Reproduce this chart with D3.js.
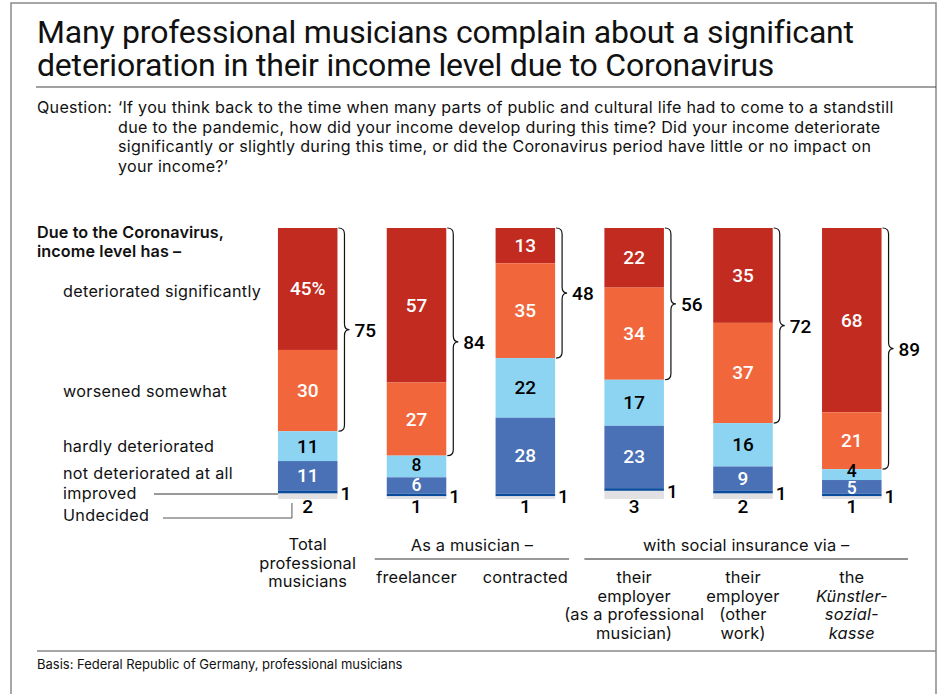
<!DOCTYPE html>
<html><head><meta charset="utf-8">
<script src="https://cdn.jsdelivr.net/npm/d3@7"></script>
<style>
body{margin:0;background:#fff;}
svg text{font-family:Inter,Roboto,"Liberation Sans",sans-serif;}
</style></head>
<body><svg id="c" width="940" height="694"></svg>
<script>
const categories = ["total","freelancer","contracted","employerMusic","employerOther","ksk"];
const significantly = [45,57,13,22,35,68];
const somewhat = [30,27,35,34,37,21];
const hardly = [11,8,22,17,16,4];
const notAtAll = [11,6,28,23,9,5];
const improved = [1,1,1,1,1,1];
const undecided = [2,1,1,3,2,1];
const bracketTotals = [75,84,48,56,72,89];
const seriesNames = ["deteriorated significantly","worsened somewhat","hardly deteriorated","not deteriorated at all","improved","Undecided"];
const categoryLines = [
  ["Total","professional","musicians"],
  ["freelancer"],
  ["contracted"],
  ["their","employer","(as a professional","musician)"],
  ["their","employer","(other","work)"],
  ["the","Künstler-","sozial-","kasse"]
];
const italicFrom = [99,99,99,99,99,1];
const groupLabels = ["As a musician –","with social insurance via –"];

const colors = ["#c22b1f","#f2663c","#8dd4f3","#4a70b5","#0b4c9c","#e1e1e3"];
const textColors = ["#fff","#fff","#000","#fff","#000","#000"];

const svg = d3.select("#c");
svg.append("rect").attr("x",11).attr("y",3).attr("width",925).attr("height",720)
  .attr("fill","none").attr("stroke","#8a8a8a").attr("stroke-width",1.5);

// title
const title = svg.append("text").attr("font-size",32).attr("fill","#111").attr("letter-spacing",-0.2)
  .style("font-family","Roboto, 'Liberation Sans', sans-serif");
title.append("tspan").attr("x",37).attr("y",43).text("Many professional musicians complain about a significant");
title.append("tspan").attr("x",37).attr("y",76).text("deterioration in their income level due to Coronavirus");
svg.append("line").attr("x1",36).attr("x2",936).attr("y1",87).attr("y2",87).attr("stroke","#444").attr("stroke-width",1.2);

// question
const qLines = ["‘If you think back to the time when many parts of public and cultural life had to come to a standstill",
 "due to the pandemic, how did your income develop during this time? Did your income deteriorate",
 "significantly or slightly during this time, or did the Coronavirus period have little or no impact on",
 "your income?’"];
const qs = 16.1, qls = 0.28;
svg.append("text").attr("x",37).attr("y",113).attr("font-size",qs).attr("letter-spacing",qls).attr("fill","#111").text("Question:");
qLines.forEach((l,i)=>svg.append("text").attr("x",118).attr("y",113+19.7*i).attr("font-size",qs).attr("letter-spacing",qls).attr("fill","#111").text(l));

// scales
const data = categories.map((c,i)=>({cat:c,s0:significantly[i],s1:somewhat[i],s2:hardly[i],s3:notAtAll[i],s4:improved[i],s5:undecided[i]}));
const keys = ["s0","s1","s2","s3","s4","s5"];
const stack = d3.stack().keys(keys)(data);
const x = d3.scaleBand().domain(categories).range([254,905.5]).paddingInner(0.453).paddingOuter(0.22);
const y = d3.scaleLinear().domain([0,100]).range([228,499]);
const bw = x.bandwidth();

stack.forEach((layer,k)=>{
  svg.append("g").selectAll("rect").data(layer).join("rect")
    .attr("x",d=>x(d.data.cat)).attr("width",bw)
    .attr("y",d=>y(d[0])).attr("height",d=>y(d[1])-y(d[0]))
    .attr("fill",colors[k]);
});

const numFont = "Roboto, 'Liberation Sans', sans-serif";
stack.slice(0,4).forEach((layer,k)=>{
  svg.append("g").selectAll("text").data(layer).join("text")
    .attr("x",d=>x(d.data.cat)+bw/2)
    .attr("y",d=>{
      const v=d[1]-d[0]; let off=0;
      if (v<5 && k===2) off=-4;
      if (v<6 && k===3) off=1.5;
      if (v<9 && v>=5 && k===2) off=-1;
      return (y(d[0])+y(d[1]))/2+(v<9?6:6.5)+off;
    })
    .attr("text-anchor","middle").attr("font-size",d=>(d[1]-d[0])<9 ? 17.5 : 19).attr("font-weight",500)
    .style("font-family",numFont)
    .attr("fill",textColors[k])
    .text((d,i)=> (k===0 && i===0) ? (d[1]-d[0])+"%" : (d[1]-d[0]));
});
svg.append("g").selectAll("text").data(stack[4]).join("text")
  .attr("x",d=>x(d.data.cat)+bw+3).attr("y",d=>(y(d[0])+y(d[1]))/2+8)
  .attr("font-size",19).attr("font-weight",500).style("font-family",numFont).attr("fill","#000")
  .text(d=>d[1]-d[0]);
svg.append("g").selectAll("text").data(stack[5]).join("text")
  .attr("x",d=>x(d.data.cat)+bw/2).attr("y",d=>y(d[1])+14)
  .attr("text-anchor","middle").attr("font-size",19).attr("font-weight",500).style("font-family",numFont).attr("fill","#000")
  .text(d=>d[1]-d[0]);

function brace(x0,y0,y1){
  const x1=x0+6, x2=x0+11, ym=(y0+y1)/2, r=6;
  return `M${x0},${y0} Q${x1},${y0} ${x1},${y0+r} L${x1},${ym-r} Q${x1},${ym} ${x2},${ym} Q${x1},${ym} ${x1},${ym+r} L${x1},${y1-r} Q${x1},${y1} ${x0},${y1}`;
}
categories.forEach((c,i)=>{
  const x0 = x(c)+bw+1;
  const y0 = y(0), y1 = y(bracketTotals[i]);
  svg.append("path").attr("d",brace(x0,y0,y1)).attr("fill","none").attr("stroke","#111").attr("stroke-width",1.2);
  svg.append("text").attr("x",x0+16).attr("y",(y0+y1)/2+7).attr("font-size",19).attr("font-weight",500)
    .style("font-family",numFont).attr("fill","#000").text(bracketTotals[i]);
});

// legend
const ls = 16.2, lls = 0.3;
svg.append("text").attr("x",37).attr("y",238).attr("font-size",ls).attr("letter-spacing",0.1).attr("font-weight",600).attr("fill","#111").text("Due to the Coronavirus,");
svg.append("text").attr("x",37).attr("y",257).attr("font-size",ls).attr("letter-spacing",0.1).attr("font-weight",600).attr("fill","#111").text("income level has –");
const legY = [297,397,452,479,499,521];
seriesNames.forEach((n,i)=>{
  svg.append("text").attr("x",63).attr("y",legY[i]).attr("font-size",ls).attr("letter-spacing",lls).attr("fill","#111").text(n);
});
const first = categories[0];
svg.append("line").attr("x1",154).attr("x2",x(first)).attr("y1",494).attr("y2",494).attr("stroke","#333").attr("stroke-width",1);
svg.append("polyline").attr("points",`163,518 ${x(first)+14},518 ${x(first)+14},503`).attr("fill","none").attr("stroke","#555").attr("stroke-width",1);

// category labels
const cs = 16.4, cls = 0.15;
categories.forEach((c,i)=>{
  const cx = x(c)+bw/2;
  const startY = i===0 ? 550 : 583;
  categoryLines[i].forEach((l,j)=>{
    svg.append("text").attr("x",cx).attr("y",startY+18.5*j).attr("text-anchor","middle")
      .attr("font-size",cs).attr("letter-spacing",cls).attr("fill","#111")
      .attr("font-style", j>=italicFrom[i] ? "italic" : "normal").text(l);
  });
});
const g1x0 = x(categories[1])-12, g1x1 = x(categories[2])+bw+14;
const g2x0 = x(categories[3])-20, g2x1 = 908;
svg.append("text").attr("x",(g1x0+g1x1)/2).attr("y",551).attr("text-anchor","middle").attr("font-size",cs).attr("letter-spacing",cls).attr("fill","#111").text(groupLabels[0]);
svg.append("line").attr("x1",g1x0).attr("x2",g1x1).attr("y1",559).attr("y2",559).attr("stroke","#777").attr("stroke-width",1.5);
svg.append("text").attr("x",(g2x0+g2x1)/2).attr("y",551).attr("text-anchor","middle").attr("font-size",cs).attr("letter-spacing",cls).attr("fill","#111").text(groupLabels[1]);
svg.append("line").attr("x1",g2x0).attr("x2",g2x1).attr("y1",559).attr("y2",559).attr("stroke","#222").attr("stroke-width",1);

svg.append("line").attr("x1",37).attr("x2",936).attr("y1",651).attr("y2",651).attr("stroke","#888").attr("stroke-width",1.5);
svg.append("text").attr("x",37).attr("y",669).attr("font-size",13).attr("fill","#111").text("Basis: Federal Republic of Germany, professional musicians");
</script></body></html>
